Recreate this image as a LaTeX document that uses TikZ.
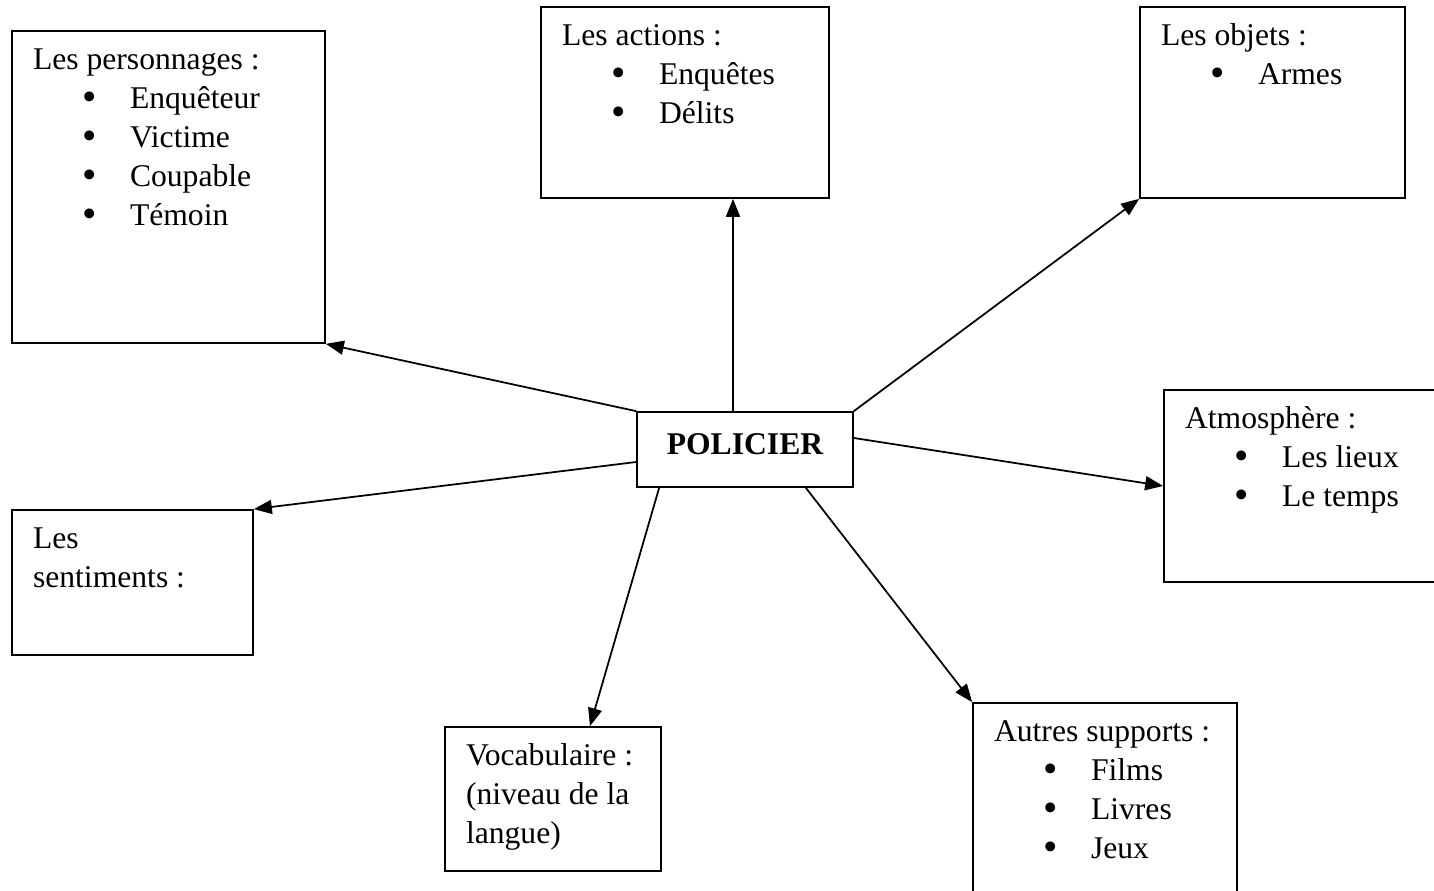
\documentclass[tikz,border=0pt]{standalone}
\usepackage{fontspec}
\setmainfont{Liberation Serif}
\usetikzlibrary{arrows.meta}
\newcommand{\puce}[1]{\\\hspace*{0.98cm}\makebox[0.96cm][l]{\raisebox{-0.08em}{\scalebox{1.3}{\textbullet}}}#1}
\newcommand{\bloc}[1]{\begin{tabular}[t]{@{}l@{}}#1\end{tabular}}

\begin{document}
\begin{tikzpicture}[x=0.02cm, y=-0.02cm, line width=1pt,
  cadre/.style={draw, inner sep=0pt},
  texte/.style={anchor=base west, inner sep=0pt, font=\fontsize{18}{22.2}\selectfont},
  fleche/.style={-{Triangle[length=3.6mm,width=2.8mm]}}]
\useasboundingbox (0,0) rectangle (1434,891);
\clip (0,0) rectangle (1434,891);

\node[cadre, minimum width=4.32cm, minimum height=1.5cm, font=\fontsize{18}{22.2}\selectfont\bfseries, text depth=0.22cm] (pol) at (745,449.5) {POLICIER};

\node[cadre, minimum width=6.26cm, minimum height=6.24cm] (pers) at (168.5,187) {};
\node[cadre, minimum width=5.76cm, minimum height=3.82cm] (act) at (685,102.5) {};
\node[cadre, minimum width=5.3cm, minimum height=3.82cm] (obj) at (1272.5,102.5) {};
\node[cadre, minimum width=5.52cm, minimum height=3.84cm] (atm) at (1302,486) {};
\node[cadre, minimum width=4.82cm, minimum height=2.9cm] (sent) at (132.5,582.5) {};
\node[cadre, minimum width=4.32cm, minimum height=2.88cm] (voc) at (553,799) {};
\node[cadre, minimum width=5.28cm, minimum height=3.94cm] (aut) at (1105,801.5) {};

\node[texte] (pers-t) at ([shift={(21,39)}]pers.north west) {\bloc{Les personnages :\puce{Enquêteur}\puce{Victime}\puce{Coupable}\puce{Témoin}}};
\node[texte] (act-t) at ([shift={(21,39)}]act.north west) {\bloc{Les actions :\puce{Enquêtes}\puce{Délits}}};
\node[texte] (obj-t) at ([shift={(21,39)}]obj.north west) {\bloc{Les objets :\puce{Armes}}};
\node[texte] (atm-t) at ([shift={(21,39)}]atm.north west) {\bloc{Atmosphère :\puce{Les lieux}\puce{Le temps}}};
\node[texte] (sent-t) at ([shift={(21,39)}]sent.north west) {\bloc{Les\\sentiments :}};
\node[texte] (voc-t) at ([shift={(21,39)}]voc.north west) {\bloc{Vocabulaire :\\(niveau de la\\langue)}};
\node[texte] (aut-t) at ([shift={(21,39)}]aut.north west) {\bloc{Autres supports :\puce{Films}\puce{Livres}\puce{Jeux}}};

\draw[fleche] (pol.north west) -- (pers.south east);
\draw[fleche] ([xshift=-0.24cm]pol.north) -- ([xshift=-0.24cm]pol.north |- act.south);
\draw[fleche] (pol.north east) -- (obj.south west);
\draw[fleche] ([yshift=0.23cm]pol.east) -- (atm.west);
\draw[fleche] ([yshift=-0.25cm]pol.west) -- (sent.north east);
\draw[fleche] ([xshift=0.46cm]pol.south west) -- ([xshift=0.74cm]voc.north);
\draw[fleche] ([xshift=-0.96cm]pol.south east) -- (aut.north west);
\end{tikzpicture}
\end{document}
